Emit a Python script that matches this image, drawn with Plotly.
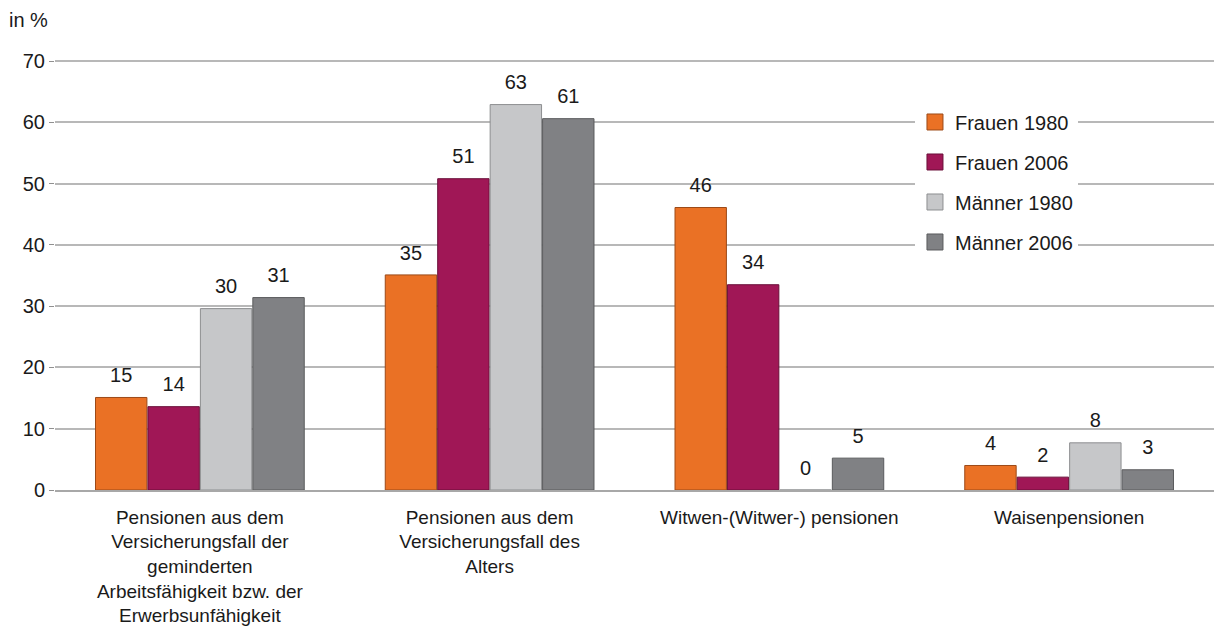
import plotly.graph_objects as go

categories = [
    "Pensionen aus dem<br>Versicherungsfall der<br>geminderten<br>Arbeitsfähigkeit bzw. der<br>Erwerbsunfähigkeit",
    "Pensionen aus dem<br>Versicherungsfall des<br>Alters",
    "Witwen-(Witwer-) pensionen",
    "Waisenpensionen",
]
series_names = ["Frauen 1980", "Frauen 2006", "Männer 1980", "Männer 2006"]
frauen_1980 = [15.1, 35.1, 46.1, 4.0]
frauen_2006 = [13.6, 50.8, 33.5, 2.1]
maenner_1980 = [29.6, 62.9, 0.0, 7.7]
maenner_2006 = [31.4, 60.6, 5.2, 3.3]
labels_f80 = ["15", "35", "46", "4"]
labels_f06 = ["14", "51", "34", "2"]
labels_m80 = ["30", "63", "0", "8"]
labels_m06 = ["31", "61", "5", "3"]
y_ticks = [0, 10, 20, 30, 40, 50, 60, 70]

fills = ["#EA7125", "#A01756", "#C6C7C9", "#808184"]
lines = ["#9c4a18", "#6a0f39", "#8d8e90", "#5a5b5d"]
values = [frauen_1980, frauen_2006, maenner_1980, maenner_2006]
labels = [labels_f80, labels_f06, labels_m80, labels_m06]

FONT = "Liberation Sans, Arial, sans-serif"
TXT = "#1a1a1a"
FS = 20

fig = go.Figure()

# legend entries (on a hidden auxiliary axis so they do not take bar slots)
for i, name in enumerate(series_names):
    fig.add_trace(go.Scatter(
        x=[None], y=[None], name=name, mode="markers",
        marker=dict(symbol="square", size=18, color=fills[i],
                    line=dict(color=lines[i], width=1)),
        xaxis="x2", yaxis="y2", legendgroup=name, showlegend=True,
        hoverinfo="skip",
    ))

for i, name in enumerate(series_names):
    fig.add_trace(go.Bar(
        x=categories, y=values[i], name=name,
        marker=dict(color=fills[i], line=dict(color=lines[i], width=1)),
        offsetgroup=str(i), showlegend=False, legendgroup=name,
    ))

for i, name in enumerate(series_names):
    fig.add_trace(go.Scatter(
        x=categories, y=values[i], name=name, mode="markers+text",
        text=labels[i], textposition="top center",
        textfont=dict(size=FS, color=TXT, family=FONT),
        marker=dict(size=15, opacity=0),
        offsetgroup=str(i), showlegend=False, legendgroup=name,
        cliponaxis=False, hoverinfo="skip",
    ))

fig.update_layout(
    width=1214, height=636,
    margin=dict(l=55, r=0, t=58, b=146),
    paper_bgcolor="white", plot_bgcolor="white",
    font=dict(family=FONT, size=FS, color=TXT),
    barmode="group", bargap=0.276, bargroupgap=0.02,
    scattermode="group", scattergap=0.276,
    showlegend=True,
    legend=dict(
        x=0.742, y=0.897, xanchor="left", yanchor="top",
        bgcolor="white", font=dict(size=FS, color=TXT),
        tracegroupgap=11, traceorder="grouped", itemwidth=30,
    ),
    xaxis=dict(
        showgrid=False, showline=True, linecolor="#a8a8a8", linewidth=1.5,
        ticks="", tickfont=dict(size=19, color=TXT), ticklabelstandoff=9,
    ),
    yaxis=dict(
        range=[0, 70.5], tickvals=y_ticks, showgrid=True, gridcolor="#b8b8b8", gridwidth=1.5,
        zeroline=False, showline=False, ticks="outside", ticklen=5, tickcolor="#909090",
        tickfont=dict(size=FS, color=TXT),
    ),
    xaxis2=dict(visible=False, overlaying="x", range=[0, 1]),
    yaxis2=dict(visible=False, overlaying="y", range=[0, 1]),
    annotations=[dict(
        text="in %", xref="paper", yref="paper", x=-0.041, y=1.088,
        xanchor="left", yanchor="middle", showarrow=False,
        font=dict(size=FS, color=TXT),
    )],
)

fig.write_html("out.html")
